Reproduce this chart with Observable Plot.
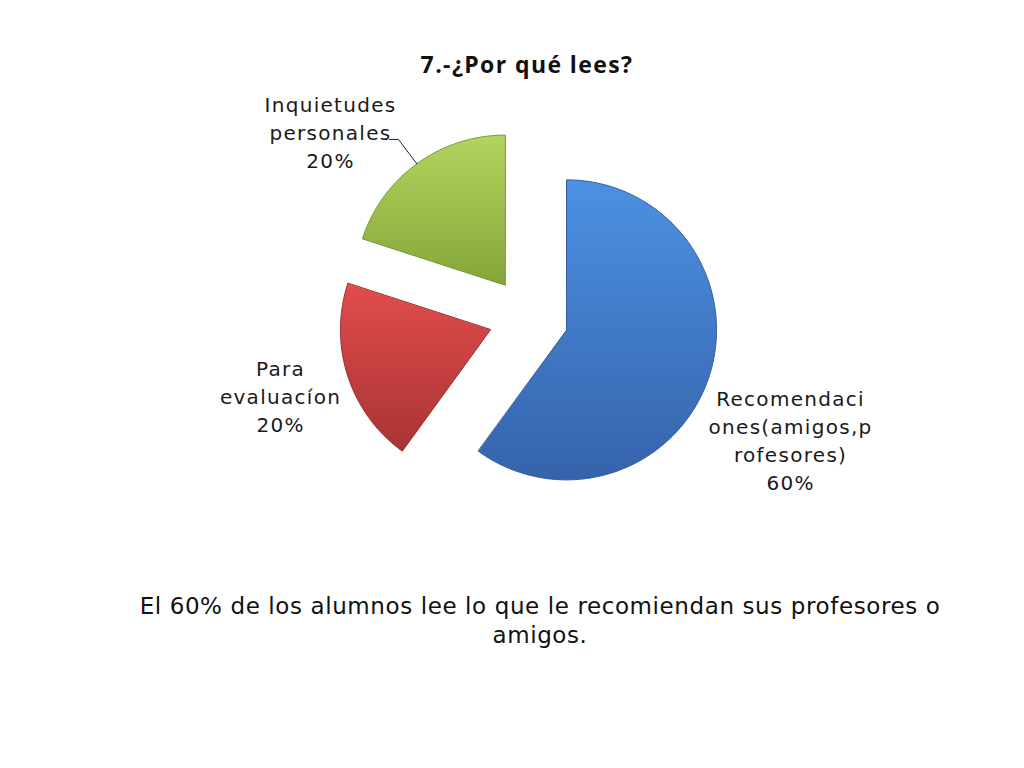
<!DOCTYPE html>
<html>
<head>
<meta charset="utf-8">
<script src="https://cdn.jsdelivr.net/npm/d3@7"></script>
<script src="https://cdn.jsdelivr.net/npm/@observablehq/plot@0.6"></script>
<style>
  html, body { margin: 0; padding: 0; background: #fff; }
  #wrap { position: relative; width: 1024px; height: 768px; overflow: hidden; }
  #chart { position: absolute; left: 0; top: 0; }
  .title { position: absolute; left: 0; width: 1054px; top: 48px; text-align: center;
           font-family: "Open Sans", sans-serif; font-weight: 700; font-size: 23px; letter-spacing: 1.4px; color: #111; }
  .caption { position: absolute; left: 110px; width: 860px; top: 592px; text-align: center;
             font-family: "DejaVu Sans", sans-serif; font-size: 23px; letter-spacing: 0.6px; line-height: 29px; color: #111; }
</style>
</head>
<body>
<div id="wrap">
  <div id="chart"></div>
  <div class="title">7.-¿Por qué lees?</div>
  <div class="caption">El 60% de los alumnos lee lo que le recomiendan sus profesores o amigos.</div>
</div>
<script>
// ---- data ----
const categories = ["Recomendaciones(amigos,profesores)", "Para evaluacíon", "Inquietudes personales"];
const values = [60, 20, 20];
const labelTexts = ["Recomendaci\nones(amigos,p\nrofesores)\n60%", "Para\nevaluacíon\n20%", "Inquietudes\npersonales\n20%"];
const baseColors = ["#4581d2", "#d44444", "#a2c54f"];
const topColors = ["#4c91e2", "#e24c4c", "#b2d560"];
const bottomColors = ["#3563ab", "#a83434", "#84a638"];
const edgeColors = ["#2f5a9c", "#962c2c", "#76952f"];

// ---- layout ----
const explode = 40 / 150;               // radius units
const labelPos = [[1.747, -0.813], [-1.653, -0.52], [-1.32, 1.24]];
const leaderPts = [[-0.927, 1.187], [-0.867, 1.187]];

const total = d3.sum(values);
let acc = 0;
const slices = values.map((v, i) => {
  const a0 = acc / total * 2 * Math.PI;
  acc += v;
  const a1 = acc / total * 2 * Math.PI;
  const mid = (a0 + a1) / 2;
  const ox = explode * Math.sin(mid), oy = explode * Math.cos(mid);
  const pts = [{x: ox, y: oy}];
  const n = Math.max(8, Math.ceil((a1 - a0) / 0.01));
  for (let k = 0; k <= n; k++) {
    const a = a0 + (a1 - a0) * k / n;
    pts.push({x: ox + Math.sin(a), y: oy + Math.cos(a)});
  }
  return {i, a0, a1, mid, ox, oy, pts};
});

const green = slices[2];
const leader = [
  {x: leaderPts[0][0], y: leaderPts[0][1]},
  {x: leaderPts[1][0], y: leaderPts[1][1]},
  {x: green.ox + Math.sin(green.mid), y: green.oy + Math.cos(green.mid)}
];

const labels = categories.map((c, i) => ({cat: c, text: labelTexts[i], x: labelPos[i][0], y: labelPos[i][1]}));

const chart = Plot.plot({
  width: 1024,
  height: 768,
  margin: 0,
  x: {domain: [-528 / 150, (1024 - 528) / 150], range: [0, 1024], axis: null},
  y: {domain: [-(768 - 317) / 150, 317 / 150], range: [768, 0], axis: null},
  style: {background: "transparent"},
  marks: [
    ...slices.map((s, i) => Plot.line(s.pts, {
      x: "x", y: "y", curve: "linear-closed",
      fill: baseColors[i], stroke: edgeColors[i], strokeWidth: 1
    })),
    Plot.line(leader, {x: "x", y: "y", stroke: "#222", strokeWidth: 1}),
    Plot.text(labels, {
      x: "x", y: "y", text: "text", fontSize: 20, lineHeight: 1.4,
      fontFamily: "DejaVu Sans", fill: "#1a1a1a", textAnchor: "middle"
    })
  ]
});

const svg = d3.select(chart);
const defs = svg.append("defs");
slices.forEach((s, i) => {
  const g = defs.append("linearGradient").attr("id", "pgrad" + i)
    .attr("x1", "0").attr("y1", "0").attr("x2", "0").attr("y2", "1");
  g.append("stop").attr("offset", "0").attr("stop-color", topColors[i]);
  g.append("stop").attr("offset", "1").attr("stop-color", bottomColors[i]);
});
const lineGroups = svg.selectAll('g[aria-label="line"]').nodes();
slices.forEach((s, i) => {
  if (lineGroups[i]) d3.select(lineGroups[i]).selectAll("path")
    .attr("fill", `url(#pgrad${i}) ${baseColors[i]}`);
});
svg.selectAll('g[aria-label="text"] text').style("letter-spacing", "1.3px");
document.getElementById("chart").appendChild(chart);
</script>
</body>
</html>
